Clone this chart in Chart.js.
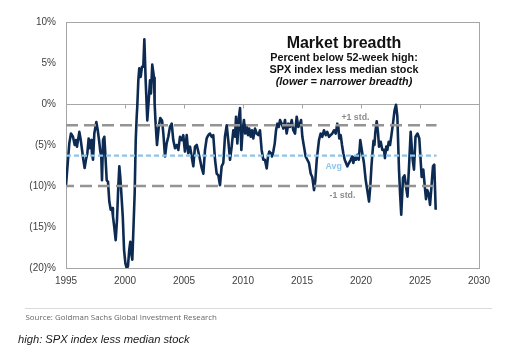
<!DOCTYPE html>
<html>
<head>
<meta charset="utf-8">
<script src="https://cdn.jsdelivr.net/npm/chart.js@4.4.1/dist/chart.umd.min.js"></script>
<style>
  html, body { margin: 0; padding: 0; background: #ffffff; }
  #wrap { position: relative; width: 527px; height: 359px; overflow: hidden; background: #fff; }
  #wrap canvas { position: absolute; left: 0; top: 0; }
  .t { position: absolute; white-space: nowrap; font-family: "Liberation Sans", Arial, sans-serif; }
  .title { left: 194px; width: 300px; text-align: center; color: #111; font-weight: bold; }
</style>
</head>
<body>
<div id="wrap">
  <canvas id="c"></canvas>
  <div class="t title" style="top:35px; font-size:16px; line-height:16px;">Market breadth</div>
  <div class="t title" style="top:51.6px; font-size:10.8px; line-height:11px;">Percent below 52-week high:</div>
  <div class="t title" style="top:63.8px; font-size:10.8px; line-height:11px;">SPX index less median stock</div>
  <div class="t title" style="top:75.8px; font-size:10.8px; line-height:11px; font-style:italic;">(lower = narrower breadth)</div>
  <div style="position:absolute; left:25px; top:308px; width:467px; height:1px; background:#d9d9d9;"></div>
  <div class="t" style="left:25.5px; top:312px; font-family:'Open Sans', sans-serif; font-size:7.9px; line-height:10px; color:#666;">Source: Goldman Sachs Global Investment Research</div>
  <div class="t" style="left:18px; top:333px; font-size:11.2px; line-height:13px; font-style:italic; color:#1a1a1a;">high: SPX index less median stock</div>
</div>
<script>
// ---- data ----
const years = [
1995.00,1995.28,1995.42,1995.59,1995.74,1995.85,1995.93,1996.13,1996.25,1996.36,1996.47,1996.58,1996.69,1996.81,1996.92,
1997.03,1997.14,1997.20,1997.29,1997.40,1997.57,1997.69,1997.80,1997.91,1997.99,1998.05,1998.14,1998.25,1998.33,1998.45,
1998.56,1998.67,1998.79,1998.90,1998.98,1999.09,1999.21,1999.32,1999.43,1999.52,1999.60,1999.69,1999.81,1999.92,2000.03,
2000.14,2000.25,2000.36,2000.45,2000.53,2000.62,2000.70,2000.82,2000.91,2000.99,2001.04,2001.13,2001.21,2001.33,2001.44,
2001.55,2001.64,2001.75,2001.89,2002.03,2002.12,2002.20,2002.31,2002.46,2002.51,2002.58,2002.71,2002.86,2002.99,2003.14,
2003.25,2003.39,2003.53,2003.67,2003.81,2003.96,2004.09,2004.24,2004.38,2004.52,2004.66,2004.81,2004.94,2005.08,2005.23,
2005.36,2005.51,2005.65,2005.79,2005.93,2006.08,2006.21,2006.36,2006.50,2006.64,2006.78,2006.92,2007.06,2007.20,2007.35,
2007.48,2007.63,2007.77,2007.91,2008.05,2008.19,2008.33,2008.47,2008.62,2008.75,2008.90,2009.04,2009.18,2009.32,2009.41,
2009.52,2009.66,2009.75,2009.86,2009.97,2010.08,2010.19,2010.31,2010.42,2010.53,2010.65,2010.76,2010.87,2011.02,2011.16,
2011.30,2011.44,2011.58,2011.72,2011.86,2012.01,2012.12,2012.23,2012.35,2012.46,2012.57,2012.69,2012.80,2012.91,2013.03,
2013.14,2013.28,2013.42,2013.56,2013.70,2013.84,2013.98,2014.13,2014.26,2014.41,2014.55,2014.69,2014.83,2014.92,2015.03,
2015.17,2015.31,2015.45,2015.59,2015.74,2015.87,2016.02,2016.13,2016.25,2016.44,2016.58,2016.72,2016.86,2017.01,2017.14,
2017.29,2017.43,2017.57,2017.71,2017.86,2017.99,2018.08,2018.16,2018.28,2018.39,2018.50,2018.62,2018.73,2018.84,2018.98,
2019.13,2019.24,2019.35,2019.47,2019.58,2019.69,2019.81,2019.94,2020.11,2020.25,2020.40,2020.53,2020.68,2020.79,2020.89,
2020.97,2021.06,2021.14,2021.21,2021.33,2021.44,2021.53,2021.67,2021.81,2021.95,2022.03,2022.14,2022.23,2022.35,2022.46,
2022.58,2022.71,2022.84,2022.97,2023.08,2023.22,2023.31,2023.41,2023.56,2023.69,2023.86,2023.94,2024.07,2024.21,2024.38,
2024.49,2024.62,2024.79,2024.94,2025.06,2025.14,2025.28,2025.42,2025.51,2025.62,2025.74,2025.85,2025.97,2026.10,2026.21,
2026.33
];
const breadth = [
-9.9,-4.8,-3.6,-4.0,-5.0,-4.4,-5.2,-3.4,-4.4,-5.6,-6.8,-7.8,-6.8,-6.0,-4.2,
-5.4,-4.4,-6.0,-6.8,-3.6,-2.2,-3.2,-4.4,-5.8,-6.4,-9.3,-4.4,-4.0,-6.0,-9.3,
-9.5,-11.9,-12.9,-12.7,-13.7,-15.0,-16.6,-14.2,-10.1,-7.6,-8.9,-10.9,-13.7,-17.8,-19.4,
-20.0,-19.8,-17.8,-16.8,-18.2,-19.0,-15.8,-10.9,-4.4,-1.55,-0.3,2.9,4.35,3.3,4.55,
4.55,7.9,2.9,-2.0,0.9,2.9,1.3,4.8,3.2,0.1,-2.0,-5.0,-2.8,-1.7,-2.0,
-3.6,-6.4,-4.8,-4.0,-2.8,-2.4,-4.4,-5.4,-5.0,-5.6,-4.0,-4.4,-3.8,-5.8,-3.8,
-6.0,-5.2,-6.4,-7.6,-5.2,-5.0,-5.8,-6.8,-7.8,-8.5,-5.6,-4.2,-3.8,-3.6,-4.0,
-3.8,-6.8,-8.5,-8.7,-9.9,-7.6,-7.2,-4.0,-2.6,-4.4,-6.8,-5.2,-3.2,-4.0,-1.55,
-4.8,-1.55,-0.5,-5.6,-3.2,-1.95,-3.6,-2.6,-3.8,-3.0,-4.0,-3.2,-4.2,-3.0,-3.6,
-3.8,-3.2,-5.6,-6.8,-6.8,-7.85,-6.4,-5.8,-6.0,-6.4,-5.8,-4.8,-3.2,-2.4,-2.8,
-1.95,-2.4,-3.0,-1.95,-3.6,-2.4,-2.8,-1.95,-3.2,-3.6,-1.55,-2.8,-2.4,-1.95,-4.0,
-5.2,-6.4,-6.8,-7.2,-8.5,-8.9,-10.5,-9.3,-6.8,-4.4,-3.6,-4.0,-3.2,-3.8,-3.4,
-4.0,-3.8,-3.6,-3.2,-3.6,-2.4,-2.8,-4.2,-3.8,-5.0,-6.0,-6.8,-7.2,-7.6,-7.2,
-6.8,-6.4,-7.2,-6.4,-6.8,-6.2,-6.8,-4.4,-6.0,-7.2,-9.3,-10.5,-11.9,-10.0,-7.5,
-6.0,-4.5,-5.0,-3.5,-2.1,-3.5,-5.2,-4.6,-5.6,-5.6,-6.6,-5.2,-5.6,-4.6,-5.0,
-3.8,-2.4,-0.8,-0.1,-1.5,-8.0,-10.9,-13.5,-9.0,-8.7,-10.5,-11.3,-7.6,-3.4,-6.8,
-8.0,-4.0,-3.6,-4.2,-7.0,-8.9,-8.0,-10.3,-11.6,-10.5,-11.0,-12.3,-10.1,-7.6,-7.4,
-12.9
];
const refYears = [1995, 2026.4];
const plusOneStd = -2.6;
const avgLevel = -6.3;
const minusOneStd = -10.0;
const xTicks = [1995, 2000, 2005, 2010, 2015, 2020, 2025, 2030];
const yTicks = [10, 5, 0, -5, -10, -15, -20];

// ---- styles ----
const NAVY = '#0d2b52';
const GREY_DASH = '#949494';
const LIGHT_BLUE = '#8fc3ea';
const FRAME = '#a6a6a6';
const TICK_FONT = { family: '"Liberation Sans", Arial, sans-serif', size: 10 };

const mainData = years.map((yr, i) => ({ x: yr, y: breadth[i] }));
const refLine = (lvl) => refYears.map(yr => ({ x: yr, y: lvl }));

const overlay = {
  id: 'overlay',
  beforeDatasetsDraw(chart) {
    const { ctx, scales: { x, y } } = chart;
    ctx.save();
    ctx.strokeStyle = FRAME;
    ctx.lineWidth = 1;
    const y0 = Math.round(y.getPixelForValue(0)) + 0.5;
    xTicks.slice(1, -1).forEach(t => {
      const px = Math.round(x.getPixelForValue(t)) + 0.5;
      ctx.beginPath(); ctx.moveTo(px, y0); ctx.lineTo(px, y0 + 4); ctx.stroke();
    });
    ctx.restore();
  },
  afterDatasetsDraw(chart) {
    const { ctx, scales: { x, y } } = chart;
    ctx.save();
    ctx.font = 'bold 8.8px "Liberation Sans", Arial, sans-serif';
    ctx.textAlign = 'center';
    ctx.textBaseline = 'middle';
    ctx.fillStyle = '#8c8c8c';
    ctx.fillText('+1 std.', x.getPixelForValue(2019.53), y.getPixelForValue(plusOneStd) - 8);
    ctx.fillText('-1 std.', x.getPixelForValue(2018.43), y.getPixelForValue(minusOneStd) + 10);
    ctx.fillStyle = LIGHT_BLUE;
    ctx.fillText('Avg', x.getPixelForValue(2017.69), y.getPixelForValue(avgLevel) + 11);
    ctx.restore();
  }
};

new Chart(document.getElementById('c'), {
  type: 'line',
  data: {
    datasets: [
      { data: refLine(plusOneStd), borderColor: GREY_DASH, borderWidth: 2.4, borderDash: [12, 6], pointRadius: 0, order: 0 },
      { data: refLine(minusOneStd), borderColor: GREY_DASH, borderWidth: 2.4, borderDash: [12, 6], borderDashOffset: 4, pointRadius: 0, order: 0 },
      { data: refLine(avgLevel), borderColor: LIGHT_BLUE, borderWidth: 2.4, borderDash: [5, 3], pointRadius: 0, order: 0 },
      { data: mainData, borderColor: NAVY, borderWidth: 2.6, pointRadius: 0, tension: 0, borderJoinStyle: 'round', order: 1 }
    ]
  },
  options: {
    responsive: true,
    maintainAspectRatio: false,
    animation: false,
    events: [],
    layout: { padding: { left: 0, top: 22, right: 48, bottom: 0 } },
    plugins: { legend: { display: false }, tooltip: { enabled: false }, title: { display: false } },
    scales: {
      x: {
        type: 'linear', min: 1995, max: 2030,
        afterBuildTicks: (s) => { s.ticks = xTicks.map(v => ({ value: v })); },
        afterFit: (s) => { s.height = 91; },
        ticks: { font: TICK_FONT, color: '#404040', padding: 7, maxRotation: 0, autoSkip: false, callback: (v) => String(v) },
        grid: { drawTicks: false, color: (c) => (c.tick && c.tick.value === 2030) ? FRAME : 'rgba(0,0,0,0)', lineWidth: 1 },
        border: { display: true, color: FRAME, width: 1 }
      },
      y: {
        type: 'linear', min: -20, max: 10,
        afterBuildTicks: (s) => { s.ticks = yTicks.map(v => ({ value: v })); },
        afterFit: (s) => { s.width = 66; },
        ticks: { font: TICK_FONT, color: '#404040', padding: 10, autoSkip: false,
          callback: (v) => v < 0 ? '(' + (-v) + ')%' : v + '%' },
        grid: { drawTicks: false, color: (c) => (c.tick && (c.tick.value === 0 || c.tick.value === 10)) ? FRAME : 'rgba(0,0,0,0)', lineWidth: 1 },
        border: { display: true, color: FRAME, width: 1 }
      }
    }
  },
  plugins: [overlay]
});
</script>
</body>
</html>
